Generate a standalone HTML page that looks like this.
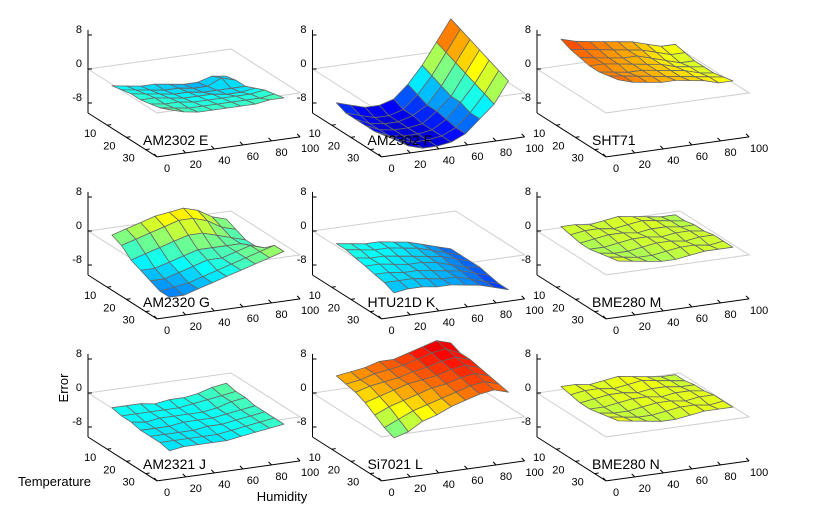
<!DOCTYPE html>
<html><head><meta charset="utf-8"><style>
html,body{margin:0;padding:0;background:#fff;}
svg{display:block;font-family:"Liberation Sans",sans-serif;}
</style></head><body>
<svg id="chart" width="818" height="508" viewBox="0 0 818 508"></svg>
<script>
const temps = [5,10,15,20,25,30,35];
const hums = [10,20,30,40,50,60,70,80,90];
const zTicks = [8,0,-8];
const tTicks = [10,20,30];
const hTicks = [0,20,40,60,80,100];
const titles = ["AM2302 E","AM2302 F","SHT71","AM2320 G","HTU21D K","BME280 M","AM2321 J","Si7021 L","BME280 N"];
const dataE = [[-3,-3.5,-4,-4,-4.5,-5,-5,-4,-4.5],[-2.5,-3,-3.5,-4,-4,-4.5,-4.5,-3,-4],[-2,-2.5,-3,-3.5,-3.5,-4,-4,-4,-4],[-2,-2,-2.5,-3,-3,-3,-3.5,-3.5,-3],[-1.5,-2,-2,-2.5,-2.5,-2.5,-2.5,-2.5,-2],[-1,-1.5,-2,-2,-2,-2,-2,-2,-1.5],[0,-1,-1.5,-1.5,-1.5,-1.5,-1.5,-1,-1]];
const dataF = [[-7,-8,-9,-9,-8,-5,-1,4,9],[-8,-9,-10,-10,-9,-6,-2,3,8],[-8,-9.5,-10,-10,-9,-7,-3,2,7],[-8,-9.5,-10,-10,-9.5,-7,-4,1,6],[-8,-9.5,-10,-10,-9.5,-7.5,-4,0,5],[-7.5,-9,-10,-10,-9.5,-8,-5,-1,4],[-7,-9,-10,-10,-9.5,-8,-5,-2,3]];
const dataSHT = [[8,7,6.5,6,5.5,5,4,3,3],[7,6.5,6,5.5,5,4.5,3.5,2.5,2.5],[6.5,6,5.5,5,5,4,3,2,2],[6,6,5.5,5,4.5,4,3,2.5,2],[6,5.5,5,5,4.5,4,3.5,2.5,2],[6.5,6,5.5,5,4.5,4,3.5,3,2.5],[7,6,5.5,5,5,4.5,4,3,3]];
const dataG = [[0,1,2,3,3.5,4,3,1,0],[-1,0,1,2,3,3,2,0,-1],[-3,-2,-1,0,1,1,0,-1,-2],[-4,-4,-3,-2,-1,-1,-1,-1,-2],[-5,-5,-4,-3,-2,-2,-1,0,-1],[-6,-5.5,-5,-4,-3,-2,-1,0,1],[-6,-6,-5,-4,-3,-2,-1,0,1]];
const dataK = [[-2,-2.5,-3,-3,-3.5,-4,-5,-6,-7],[-2,-2.5,-3,-3,-3.5,-4,-5,-6,-7],[-2.5,-3,-3,-3.5,-4,-4.5,-5,-6,-7],[-3,-3,-3.5,-4,-4,-4.5,-5.5,-6.5,-7],[-3.5,-3.5,-4,-4,-4.5,-5,-5.5,-6.5,-7.5],[-4,-4,-4,-4.5,-5,-5,-6,-7,-8],[-5,-4.5,-4.5,-5,-5,-5.5,-6,-7,-8]];
const dataM = [[2,2,1.5,2,2.5,2,1.5,1,1],[1.5,2,2,1.5,2,2.5,2,1.5,1],[1,1.5,2,2,1.5,2,2,1.5,1.5],[1,1,1.5,2,2,1.5,2,2,1.5],[1.5,1,1,1.5,2,2,1.5,2,2],[2,1.5,1,1,1.5,2,2,1.5,2],[2.5,2,1.5,1,1,1.5,2,2,2]];
const dataJ = [[-2.5,-2.5,-2.5,-3,-2.5,-2.5,-2,-1,-0.5],[-3,-3,-3,-3,-3,-2.5,-2,-1.5,-1],[-3,-3.5,-3,-3,-3,-3,-2.5,-1.5,-1],[-3.5,-3.5,-3.5,-3,-3,-3,-2.5,-2,-1.5],[-3.5,-3.5,-3.5,-3.5,-3,-3,-2.5,-2,-1.5],[-3.5,-3.5,-3.5,-3.5,-3.5,-3,-2.5,-2,-1.5],[-4,-3.5,-3.5,-3.5,-3.5,-3,-2.5,-2,-1.5]];
const dataL = [[5,5.5,6,7,7,8,9,10,9],[4.5,5,6,6.5,7,8,9,9.5,8],[4,5,5.5,6,7,7.5,8.5,9,8],[3,4,5,6,6.5,7,8,8.5,7.5],[1.5,3,4,5,6,6.5,7.5,8,7],[0,1.5,3,4,5,6,7,7.5,6.5],[-1,0,2,3,4.5,5.5,6.5,7,6]];
const dataN = [[2.5,2.5,2,2.5,3,2.5,2,1.5,1.5],[2,2.5,2.5,2,2.5,3,2.5,2,1.5],[1.5,2,2.5,2.5,2,2.5,2.5,2,2],[1.5,1.5,2,2.5,2.5,2,2.5,2.5,2],[2,1.5,1.5,2,2.5,2.5,2,2.5,2.5],[2.5,2,1.5,1.5,2,2.5,2.5,2,2.5],[3,2.5,2,1.5,1.5,2,2.5,2.5,2.5]];
const allData = [dataE,dataF,dataSHT,dataG,dataK,dataM,dataJ,dataL,dataN];

const NS="http://www.w3.org/2000/svg";
const svg=document.getElementById('chart');
function mk(tag,attrs,parent){const e=document.createElementNS(NS,tag);for(const k in attrs)e.setAttribute(k,attrs[k]);(parent||svg).appendChild(e);return e;}
const ZMIN=-10.35, ZMAX=9.2, TMAX=36, HMAX=100;
function jet(v){let x=(v+12)/24;x=Math.max(0,Math.min(1,x));
 const r=Math.max(0,Math.min(1,1.5-Math.abs(4*x-3))),g=Math.max(0,Math.min(1,1.5-Math.abs(4*x-2))),b=Math.max(0,Math.min(1,1.5-Math.abs(4*x-1)));
 return `rgb(${Math.round(r*255)},${Math.round(g*255)},${Math.round(b*255)})`;}

titles.forEach((title,idx)=>{
 const col=idx%3,row=Math.floor(idx/3);
 const ox=88+col*224.5, oy=69+row*162;
 const P=(h,t,z)=>[ox+h*1.43+t*1.92, oy+t*1.22-h*0.2-z*4.25];
 const g=mk('g',{});
 
 
 const c=[P(0,0,0),P(0,TMAX,0),P(HMAX,TMAX,0),P(HMAX,0,0)];
 const pl=mk('polygon',{points:c.map(p=>p.join(',')).join(' '),fill:'none',stroke:'#cfcfcf','stroke-width':1},g);
 
 
 const za=P(0,0,ZMIN),zb=P(0,0,ZMAX);
 const zl=mk('line',{x1:za[0],y1:za[1],x2:zb[0],y2:zb[1],stroke:'#000','stroke-width':1},g);
 
 
 zTicks.forEach(v=>{const p=P(0,0,v);
  mk('line',{x1:p[0],y1:p[1],x2:p[0]+4,y2:p[1],stroke:'#000'},g);
  const tx=mk('text',{x:p[0]-6,y:p[1]-2,'font-size':11,'text-anchor':'end'},g);tx.textContent=v;
  
  });
 const ta=P(0,0,ZMIN),tb=P(0,TMAX,ZMIN);
 const tl=mk('line',{x1:ta[0],y1:ta[1],x2:tb[0],y2:tb[1],stroke:'#000'},g);
 
 
 tTicks.forEach(v=>{const p=P(0,v,ZMIN);
  mk('line',{x1:p[0],y1:p[1],x2:p[0]+4,y2:p[1]-0.6,stroke:'#000'},g);
  const tx=mk('text',{x:p[0]-17,y:p[1]+12,'font-size':11,'text-anchor':'middle'},g);tx.textContent=v;
  
  });
 const ha=P(0,TMAX,ZMIN),hb=P(HMAX,TMAX,ZMIN);
 const hl=mk('line',{x1:ha[0],y1:ha[1],x2:hb[0],y2:hb[1],stroke:'#000'},g);
 
 
 hTicks.forEach(v=>{const p=P(v,TMAX,ZMIN);
  mk('line',{x1:p[0],y1:p[1],x2:p[0]-3,y2:p[1]-3,stroke:'#000'},g);
  const tx=mk('text',{x:p[0]+10,y:p[1]+15,'font-size':11,'text-anchor':'middle'},g);tx.textContent=v;
  
  });
 const d=allData[idx];const quads=[];
 for(let i=0;i<temps.length-1;i++)for(let j=0;j<hums.length-1;j++){
  const pts=[[j,i],[j+1,i],[j+1,i+1],[j,i+1]];
  const zs=pts.map(([a,b])=>d[b][a]);
  const avg=zs.reduce((s,v)=>s+v,0)/4;
  const tc=(temps[i]+temps[i+1])/2,hc=(hums[j]+hums[j+1])/2;
  quads.push({pts,avg,key:tc-hc*0.4});
 }
 quads.sort((a,b)=>a.key-b.key);
 quads.forEach(q=>{
  const pp=q.pts.map(([a,b])=>P(hums[a],temps[b],d[b][a]));
  const poly=mk('polygon',{points:pp.map(p=>p.map(v=>v.toFixed(1)).join(',')).join(' '),fill:jet(q.avg),stroke:'#666','stroke-width':0.8,'stroke-linejoin':'round'},g);
  
  
 });
 const tt=mk('text',{x:ox+55,y:oy+76,'font-size':14},g);tt.textContent=title;
 
 
});
const e1=mk('text',{x:0,y:0,'font-size':13,'text-anchor':'middle',transform:'translate(68,388) rotate(-90)'});e1.textContent='Error';


const e2=mk('text',{x:18,y:486,'font-size':13});e2.textContent='Temperature';


const e3=mk('text',{x:282,y:501,'font-size':13,'text-anchor':'middle'});e3.textContent='Humidity';


</script>
</body></html>
